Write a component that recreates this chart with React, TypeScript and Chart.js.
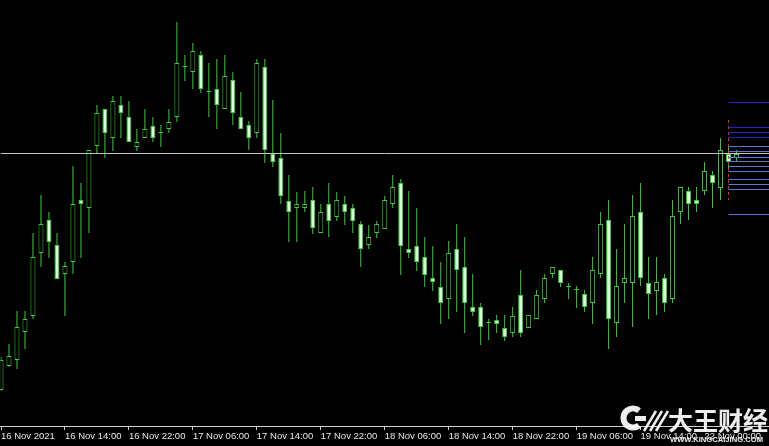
import React, { useEffect, useRef } from "react";
import { Chart, registerables } from "chart.js";

Chart.register(...registerables);

// Hourly candles (price points, higher = higher price)
const openPrices = [56,80,86,114,130,193,226,201,172,184,246,238,300,337,308,341,329,299,308,320,313,317,329,379,374,391,354,357,337,366,329,321,313,379,292,288,245,238,238,246,213,242,229,242,238,222,201,213,217,242,263,197,200,189,168,159,147,197,179,139,139,123,126,118,113,151,118,127,147,172,176,159,156,152,143,172,226,123,163,163,234,163,155,168,147,234,255,246,255,271,258,292,288];
const highPrices = [89,102,135,135,213,251,234,213,184,280,263,296,341,337,350,350,345,317,337,329,321,337,424,391,403,395,383,387,391,374,354,325,387,387,346,313,271,254,255,259,242,263,254,250,242,225,221,225,250,271,267,255,238,209,200,184,205,222,209,172,143,127,131,131,139,176,131,156,172,179,176,163,160,156,189,234,246,197,222,251,263,189,189,172,246,259,259,259,284,275,308,299,296];
const lowPrices = [55,79,77,97,127,179,188,167,130,172,188,213,292,288,295,308,304,295,308,304,299,313,324,365,357,353,329,317,337,321,317,296,308,283,279,242,204,204,234,212,213,209,225,221,213,179,197,208,217,238,171,188,175,159,155,122,127,134,113,130,101,106,113,105,109,109,118,127,143,168,159,147,138,134,122,168,97,109,143,119,160,127,131,134,143,222,226,234,251,238,246,276,284];
const closePrices = [86,90,119,127,189,222,204,167,180,242,242,296,333,313,345,333,304,304,317,308,313,324,383,379,395,357,354,341,370,333,317,308,383,296,284,250,234,242,242,218,234,225,246,234,225,197,209,222,246,259,200,193,184,171,164,143,193,176,143,134,119,123,122,109,130,113,131,151,168,179,163,159,156,139,176,222,127,160,168,230,168,152,164,143,230,259,242,242,275,263,296,284,292];

// Time axis
const tickBars = [0, 8, 16, 24, 32, 40, 48, 56, 64, 72, 80, 88];
const tickLabels = [
  "16 Nov 2021", "16 Nov 14:00", "16 Nov 22:00", "17 Nov 06:00",
  "17 Nov 14:00", "17 Nov 22:00", "18 Nov 06:00", "18 Nov 14:00",
  "18 Nov 22:00", "19 Nov 06:00", "19 Nov 14:00", "22 Nov 00:00",
];

// Horizontal levels
const bidLevel = 292.5;
const upperLevels = [343.5, 318.5, 313.5, 308.5];
const lowerLevels = [299.5, 294.5, 288.5, 284.5, 279.5, 274.5, 266.5, 261.5, 256.5, 231.5];
const markerBar = 91;
const markerRange = [246, 326];

const X_MIN = -0.0625;
const X_MAX = 96.0625;
const GREEN = "#3ccc3c";
const BEAR_FILL = "#d4ffd4";

const background = {
  id: "bg",
  beforeDraw(chart: any) {
    const { ctx, width, height } = chart;
    ctx.save();
    ctx.fillStyle = "#000000";
    ctx.fillRect(0, 0, width, height);
    ctx.restore();
  },
};

const watermark = {
  id: "watermark",
  afterDraw(chart: any) {
    const ctx = chart.ctx;
    ctx.save();
    ctx.globalAlpha = 0.93;
    ctx.fillStyle = "#ffffff";
    ctx.strokeStyle = "#ffffff";
    // C logo
    ctx.lineWidth = 6;
    ctx.beginPath();
    ctx.arc(633, 418, 9.5, Math.PI * 0.28, Math.PI * 1.72);
    ctx.stroke();
    ctx.fillRect(635, 416, 11, 5);
    // stripes
    ctx.lineWidth = 2.5;
    for (let i = 0; i < 3; i++) {
      ctx.beginPath();
      ctx.moveTo(644 + i * 6, 431);
      ctx.lineTo(656 + i * 6, 411);
      ctx.stroke();
    }
    ctx.textBaseline = "middle";
    ctx.textAlign = "left";
    ctx.font = 'bold 25px "Noto Sans CJK SC"';
    ctx.fillText("大王财经", 668, 420);
    ctx.font = 'bold 8px "Liberation Sans", Arial, sans-serif';
    const s = "WWW.KINGCAIJING.COM";
    const w = ctx.measureText(s).width;
    ctx.translate(670, 440);
    ctx.scale(93 / w, 1);
    ctx.fillText(s, 0, 0);
    ctx.restore();
  },
};

export default function App() {
  const ref = useRef<HTMLCanvasElement | null>(null);

  useEffect(() => {
    document.body.style.margin = "0";
    document.body.style.background = "#000";
    const canvas = ref.current;
    if (!canvas) return;
    const idx = openPrices.map((_, i) => i);

    const levelSet = (v: number, color: string, from: number) => ({
      type: "line" as const,
      data: [{ x: from, y: v }, { x: X_MAX, y: v }],
      borderColor: color,
      borderWidth: 1,
      pointRadius: 0,
      fill: false,
      order: 0,
    });

    const datasets: any[] = [
      levelSet(bidLevel, "#c4c4c4", X_MIN),
      ...upperLevels.map((v) => levelSet(v, "#2424cc", markerBar)),
      ...lowerLevels.map((v) => levelSet(v, "#5a7ad4", markerBar)),
      {
        type: "line",
        data: [{ x: markerBar, y: markerRange[1] }, { x: markerBar, y: markerRange[0] }],
        borderColor: "#e03030",
        borderWidth: 1,
        borderDash: [3, 3],
        pointRadius: 0,
        fill: false,
        order: 1,
      },
      {
        type: "bar",
        data: idx.map((i) => ({ x: i, y: [openPrices[i], closePrices[i]] })),
        backgroundColor: idx.map((i) => (closePrices[i] < openPrices[i] ? BEAR_FILL : "#000000")),
        borderColor: GREEN,
        borderWidth: 1,
        borderSkipped: false,
        barThickness: 5,
        minBarLength: 1,
        inflateAmount: 0,
        grouped: false,
        order: 2,
      },
      {
        type: "bar",
        data: idx.map((i) => ({ x: i, y: [lowPrices[i], highPrices[i]] })),
        backgroundColor: GREEN,
        borderWidth: 0,
        barThickness: 1,
        minBarLength: 1,
        inflateAmount: 0,
        grouped: false,
        order: 3,
      },
    ];

    const chart = new Chart(canvas, {
      type: "bar",
      data: { datasets },
      options: {
        animation: false,
        responsive: false,
        devicePixelRatio: 1,
        events: [],
        layout: { padding: 0 },
        plugins: { legend: { display: false }, tooltip: { enabled: false } },
        scales: {
          x: {
            type: "linear",
            min: X_MIN,
            max: X_MAX,
            offset: false,
            afterBuildTicks: (s: any) => {
              s.ticks = tickBars.map((v) => ({ value: v }));
            },
            afterFit: (s: any) => {
              s.height = 20;
            },
            ticks: {
              autoSkip: false,
              maxRotation: 0,
              minRotation: 0,
              align: "start",
              padding: 1,
              color: "#e6e6e6",
              font: { family: '"Liberation Sans", Arial, sans-serif', size: 9.5 },
              callback: (_v: any, i: number) => tickLabels[i],
            },
            grid: { drawOnChartArea: false, drawTicks: true, tickLength: 4, color: "#cfcfcf", lineWidth: 1, offset: false },
            border: { display: true, color: "#cfcfcf", width: 1 },
          },
          y: { type: "linear", display: false, min: 20, max: 446 },
        },
      } as any,
      plugins: [background, watermark],
    });
    return () => chart.destroy();
  }, []);

  return (
    <div style={{ position: "fixed", left: 0, top: 0, width: 769, height: 446, background: "#000" }}>
      <canvas ref={ref} width={769} height={446} style={{ display: "block" }} />
    </div>
  );
}
